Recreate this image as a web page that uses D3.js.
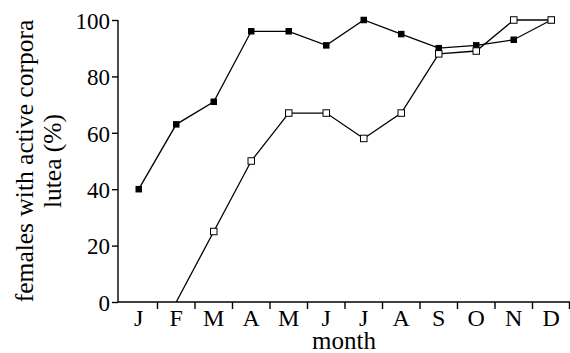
<!DOCTYPE html>
<html>
<head>
<meta charset="utf-8">
<script src="https://cdn.jsdelivr.net/npm/d3@7"></script>
<style>
  html, body { margin: 0; padding: 0; background: #fff; }
  svg { display: block; }
</style>
</head>
<body>
<svg id="chart" width="570" height="353"></svg>
<script>
// Monthly share of females with active corpora lutea (%)
const months = ["J", "F", "M", "A", "M", "J", "J", "A", "S", "O", "N", "D"];
const filledSeries = [40, 63, 71, 96, 96, 91, 100, 95, 90, 91, 93, 100];
const openSeries = [null, 0, 25, 50, 67, 67, 58, 67, 88, 89, 100, 100];
const yTicks = [0, 20, 40, 60, 80, 100];

const FONT = "Liberation Serif";

const svg = d3.select("#chart");
const monthKeys = months.map((m, i) => i);

const x = d3.scaleBand().domain(monthKeys).range([120, 570]).paddingInner(0).paddingOuter(0);
const y = d3.scaleLinear().domain([0, 100]).range([302, 20]);
const cx = i => x(i) + x.bandwidth() / 2;

// y axis
const yAxis = svg.append("g").attr("transform", "translate(118,0)")
  .call(d3.axisLeft(y).tickValues(yTicks).tickSize(6).tickPadding(2).tickFormat(d3.format("d")));
yAxis.attr("font-family", null).attr("font-size", null);
yAxis.select(".domain").attr("stroke", "#000").attr("stroke-width", 1.4)
  .attr("d", `M0,${y(100)}V${y(0)}`);
yAxis.selectAll(".tick line").attr("stroke", "#000").attr("stroke-width", 1.4);
yAxis.selectAll(".tick text").attr("fill", "#000").attr("dy", "0.36em")
  .attr("font-family", FONT).attr("font-size", 23);

// x axis: ticks at month boundaries, labels centred in each month
const xAxisG = svg.append("g").attr("transform", `translate(0,${y(0)})`);
xAxisG.append("path").attr("fill", "none").attr("stroke", "#000").attr("stroke-width", 1.4)
  .attr("d", `M118,0H570`);
xAxisG.selectAll("line.bound").data(monthKeys.slice(1).concat([12]))
  .join("line").attr("class", "bound")
  .attr("x1", i => i < 12 ? x(i) : 569.5).attr("x2", i => i < 12 ? x(i) : 569.5)
  .attr("y1", 0).attr("y2", 7).attr("stroke", "#000").attr("stroke-width", 1.4);
xAxisG.selectAll("text.month").data(monthKeys).join("text").attr("class", "month")
  .attr("x", cx).attr("y", 24).attr("text-anchor", "middle")
  .attr("font-family", FONT).attr("font-size", 24).text(i => months[i]);

// axis titles
svg.append("text").attr("x", 344).attr("y", 349).attr("text-anchor", "middle")
  .attr("font-family", FONT).attr("font-size", 25).text("month");
const yTitle = svg.append("text").attr("transform", "translate(33,161) rotate(-90)")
  .attr("text-anchor", "middle").attr("font-family", FONT).attr("font-size", 25.5);
yTitle.append("tspan").attr("x", 0).attr("dy", 0).text("females with active corpora");
yTitle.append("tspan").attr("x", 0).attr("dy", 28).text("lutea (%)");

// series lines
const line = d3.line().defined(d => d.v !== null).x(d => cx(d.i)).y(d => y(d.v));
const filledPts = filledSeries.map((v, i) => ({ i, v }));
const openPts = openSeries.map((v, i) => ({ i, v }));

svg.append("path").datum(openPts).attr("fill", "none").attr("stroke", "#000")
  .attr("stroke-width", 1.3).attr("d", line);
svg.append("path").datum(filledPts).attr("fill", "none").attr("stroke", "#000")
  .attr("stroke-width", 1.3).attr("d", line);

const s = 6.5;
svg.selectAll("rect.filled").data(filledPts).join("rect").attr("class", "filled")
  .attr("x", d => cx(d.i) - s / 2).attr("y", d => y(d.v) - s / 2)
  .attr("width", s).attr("height", s).attr("fill", "#000");
svg.selectAll("rect.open").data(openPts.filter(d => d.v !== null && d.v > 0)).join("rect").attr("class", "open")
  .attr("x", d => cx(d.i) - s / 2).attr("y", d => y(d.v) - s / 2)
  .attr("width", s).attr("height", s).attr("fill", "#fff").attr("stroke", "#000").attr("stroke-width", 1);
</script>
</body>
</html>
